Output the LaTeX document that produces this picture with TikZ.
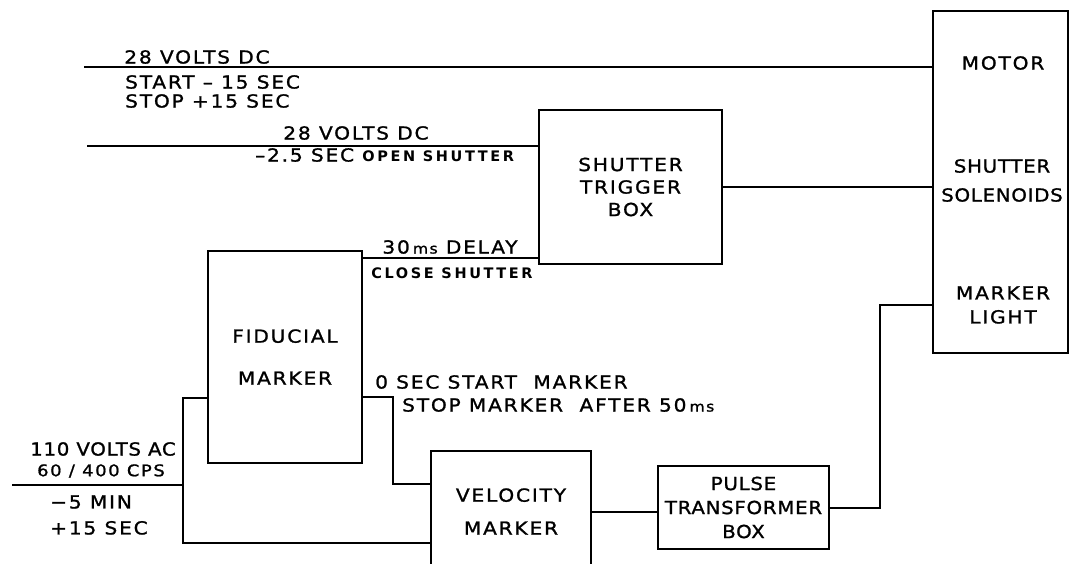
\documentclass[tikz,border=0pt]{standalone}
\usepackage{fontspec}
\usepackage{tikz}
\usetikzlibrary{positioning}
\newfontfamily\lettering[LetterSpace=10,FakeStretch=1.12,FakeBold=1.2]{DejaVu Sans}
\newfontfamily\tightlettering[LetterSpace=4,FakeStretch=1.1,FakeBold=1.2]{DejaVu Sans}
\newfontfamily\tagfont[LetterSpace=18]{DejaVu Sans}
\newcommand{\smallms}{{\fontsize{14}{16}\selectfont ms}}
\tikzset{
  wire/.style={line width=2pt},
  blk/.style={draw, line width=2pt, align=center, inner sep=0pt,
    font=\lettering\fontsize{18}{#1}\selectfont},
  blk/.default=22.5,
  txt/.style={inner sep=0pt, align=left, font=\lettering\fontsize{18}{#1}\selectfont},
  txt/.default=21,
  smalltxt/.style={inner sep=0pt, font=\tagfont\bfseries\fontsize{14.5}{16}\selectfont},
}
\begin{document}
\begin{tikzpicture}[x=1pt,y=-1pt]
  \useasboundingbox (0,0) rectangle (1070,563);
  \clip (0,0) rectangle (1070,563);
  % blocks
  \node[blk, minimum width=135pt, minimum height=342pt] (rbox) at (1000.5,182) {};
  \node[txt] (motor) at (1003,63) {MOTOR};
  \node[txt=29, align=center, font=\tightlettering\fontsize{18}{29}\selectfont] (solenoids) at (1002,180.5) {SHUTTER\\SOLENOIDS};
  \node[txt=24, align=center] (light) at (1003,305) {MARKER\\LIGHT};
  \node[blk, minimum width=183pt, minimum height=154pt] (trig) at (630.5,187) {SHUTTER\\TRIGGER\\BOX};
  \node[blk=42, minimum width=154pt, minimum height=212pt] (fid) at (285,357) {FIDUCIAL\\MARKER};
  \node[blk=33, minimum width=160pt, minimum height=121pt] (vel) at (511,511.5) {VELOCITY\\MARKER};
  \node[blk, minimum width=171pt, minimum height=83pt, font=\tightlettering\fontsize{18}{24}\selectfont] (pulse) at (743.5,507.5) {PULSE\\TRANSFORMER\\BOX};
  % inputs
  \coordinate (dcin) at (84,67);
  \coordinate (shutin) at (87,146);
  \coordinate (acin) at (12,485);
  \coordinate (acjoin) at (183,485);
  % wiring
  \draw[wire] (dcin) -- (dcin -| rbox.west);
  \draw[wire] (shutin) -- (shutin -| trig.west);
  \draw[wire] (trig.east) -- (trig.east -| rbox.west);
  \draw[wire] ([yshift=-8pt]fid.north east) -- ([yshift=-8pt]fid.north east -| trig.west);
  \draw[wire] ([yshift=-40pt]fid.east) -- ++(30,0) |- ([yshift=27.5pt]vel.west);
  \draw[wire] (acin) -- (acjoin);
  \draw[wire] ([yshift=-41pt]fid.west) -| (acjoin) |- ([yshift=-31.5pt]vel.west);
  \draw[wire] (vel.east) -- (vel.east -| pulse.west);
  \draw[wire] (pulse.east) -- ++(50,0) |- ([yshift=-123pt]rbox.west);
  % labels
  \node[txt] (dcvolts) at (197,57) {28 VOLTS DC};
  \node[txt=19, anchor=west] (dctime) at (125,91.5) {START – 15 SEC\\STOP +15 SEC};
  \node[txt] (shutvolts) at (356,133) {28 VOLTS DC};
  \node[txt, anchor=west] (shuttime) at (255,155) {–2.5 SEC {\tagfont\bfseries\fontsize{14.5}{16}\selectfont OPEN SHUTTER}};
  \node[txt] (delay) at (450,247) {30\,\smallms{} DELAY};
  \node[smalltxt] (close) at (452,273) {CLOSE SHUTTER};
  \node[txt, anchor=west] (markstart) at (375,382) {0 SEC START\ \ MARKER};
  \node[txt, anchor=west] (markstop) at (402,405) {STOP MARKER\ \ AFTER 50\,\smallms};
  \node[txt, font=\tightlettering\fontsize{18}{21}\selectfont] (acvolts) at (103,449) {110 VOLTS AC};
  \node[txt, font=\lettering\fontsize{16}{18}\selectfont] (accps) at (101,471) {60 / 400 CPS};
  \node[txt=26, anchor=west] (actime) at (50,515) {−5 MIN\\+15 SEC};
\end{tikzpicture}
\end{document}
